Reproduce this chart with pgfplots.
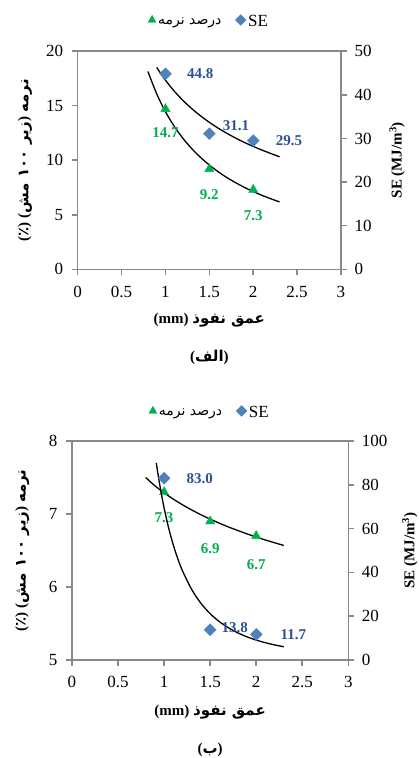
\documentclass[border=0pt]{standalone}
\usepackage{pgfplots}
\pgfplotsset{compat=1.18}
\usepackage{fontspec}
\setmainfont{Liberation Serif}
\newfontfamily\fa[Script=Arabic]{DejaVu Sans}
\TeXXeTstate=1
\definecolor{axgray}{RGB}{137,137,137}
\definecolor{fgreen}{RGB}{0,176,80}
\definecolor{seblue}{RGB}{79,129,189}
\definecolor{sedark}{RGB}{44,82,145}
\newcommand\tks{\fontsize{17}{17}\selectfont}
\newcommand\lbs{\fontsize{15}{15}\selectfont\bfseries}
\newcommand\lp{{\rmfamily\bfseries(}}
\newcommand\rp{{\rmfamily\bfseries)}}
\newcommand\leftlab{{\lbs\lp{\fa ٪}\rp\ \lp{\fa مش ۱۰۰ زیر}\rp\ {\fa نرمه}}}
\newcommand\xlab{{\lbs (mm)\ {\fa نفوذ عمق}}}
\newcommand\selab{{\lbs SE (MJ/m\textsuperscript{3})}}
\newcommand\legfa{{\fontsize{14}{14}\selectfont\fa\beginR درصد نرمه\endR}}
\tikzset{
  lab/.style={font=\lbs},
  glab/.style={font=\lbs, text=fgreen, anchor=center},
  blab/.style={font=\lbs, text=sedark, anchor=west}
}
\pgfplotsset{
  common/.style={scale only axis, anchor=south west, xmin=0, xmax=3,
    xtick={0,0.5,1,1.5,2,2.5,3},
    axis line style={draw=axgray, line width=1.5pt},
    tick style={draw=axgray, line width=1.5pt},
    major tick length=6pt, tick align=outside,
    tick label style={font=\tks},
    xticklabel style={yshift=-7pt},
    /pgf/number format/assume math mode=true,
    clip=false},
  trend/.style={black, line width=1.3pt, smooth, forget plot},
  tri/.style={only marks, mark=triangle*, mark size=5.3pt, color=fgreen,
    legend image code/.code={\draw[##1, mark size=4.6pt] plot coordinates {(0pt,2pt)};}},
  dia/.style={only marks, mark=square*, mark size=4.2pt, color=seblue, mark options={rotate=45},
    legend image code/.code={\draw[##1, mark size=3.8pt] plot coordinates {(0pt,2pt)};}},
  leg/.style={legend style={at={(axis description cs:0.499,#1)}, anchor=center, draw=none, fill=none,
    legend columns=2, font=\fontsize{17}{17}\selectfont,
    /tikz/every even column/.append style={column sep=12pt}}}
}
\begin{document}
\begin{tikzpicture}[x=1pt,y=1pt]
\fill[white] (0pt,0pt) rectangle (418pt,758pt);
\path[use as bounding box] (0pt,0pt) rectangle (418pt,758pt);
% ---------- top panel
\begin{axis}[common, at={(77.7pt,488.7pt)}, width=263.3pt, height=218.1pt,
  ymin=0, ymax=20, ytick={0,5,10,15,20}, xtick pos=left, ytick pos=left,
  yticklabel style={xshift=-5pt},
  ylabel={\leftlab}, ylabel style={at={(axis description cs:-0.2,0.5)}, anchor=center},
  xlabel={\xlab}, xlabel style={at={(axis description cs:0.5,-0.2325)}, anchor=center}]
\addplot[tri] coordinates {(1,14.7) (1.5,9.2) (2,7.3)};
\addplot[trend] coordinates {(0.8,18.14)(0.9,16.09)(1,14.45)(1.1,13.11)(1.2,12.00)(1.3,11.06)(1.4,10.26)(1.5,9.56)(1.6,8.95)(1.7,8.41)(1.8,7.94)(1.9,7.51)(2,7.13)(2.1,6.78)(2.2,6.47)(2.3,6.18)};
\node[glab] at (axis cs:1,14.7) [yshift=-24pt] {14.7};
\node[glab] at (axis cs:1.5,9.2) [yshift=-26pt] {9.2};
\node[glab] at (axis cs:2,7.3) [yshift=-26pt] {7.3};
\node[lab] at (axis description cs:0.5,-0.402) {\lp{\fa الف}\rp};
\end{axis}
\begin{axis}[common, at={(77.7pt,488.7pt)}, width=263.3pt, height=218.1pt,
  axis x line=none, axis y line*=right,
  ymin=0, ymax=50, ytick={0,10,20,30,40,50},
  yticklabel style={xshift=4pt},
  ylabel={\selab}, ylabel style={at={(axis description cs:1.213,0.5)}, anchor=center},
  leg=1.134]
\addlegendimage{tri}
\addlegendentry{\legfa}
\addplot[dia] coordinates {(1,44.8) (1.5,31.1) (2,29.5)};
\addlegendentry{SE}
\addplot[trend] coordinates {(0.9,46.28)(1,43.35)(1.1,40.85)(1.2,38.70)(1.3,36.82)(1.4,35.17)(1.5,33.69)(1.6,32.36)(1.7,31.17)(1.8,30.08)(1.9,29.08)(2,28.17)(2.1,27.33)(2.2,26.55)(2.3,25.79)};
\node[blab] at (axis cs:1,44.8) [xshift=18pt] {44.8};
\node[blab] at (axis cs:1.5,31.1) [xshift=10pt, yshift=8pt] {31.1};
\node[blab] at (axis cs:2,29.5) [xshift=19pt] {29.5};
\end{axis}
% ---------- bottom panel
\begin{axis}[common, at={(72pt,98pt)}, width=276.3pt, height=219pt,
  ymin=5, ymax=8, ytick={5,6,7,8}, xtick pos=left, ytick pos=left,
  yticklabel style={xshift=-5pt},
  ylabel={\leftlab}, ylabel style={at={(axis description cs:-0.18,0.5)}, anchor=center},
  xlabel={\xlab}, xlabel style={at={(axis description cs:0.5,-0.236)}, anchor=center}]
\addplot[tri] coordinates {(1,7.3) (1.5,6.9) (2,6.7)};
\addplot[trend] coordinates {(0.8,7.50)(0.9,7.387)(1,7.29)(1.1,7.204)(1.2,7.126)(1.3,7.055)(1.4,6.990)(1.5,6.930)(1.6,6.874)(1.7,6.822)(1.8,6.774)(1.9,6.728)(2,6.685)(2.1,6.644)(2.2,6.606)(2.3,6.569)};
\node[glab] at (axis cs:1,7.3) [yshift=-26pt] {7.3};
\node[glab] at (axis cs:1.5,6.9) [yshift=-27pt] {6.9};
\node[glab] at (axis cs:2,6.7) [yshift=-29pt] {6.7};
\node[lab] at (axis description cs:0.5,-0.411) {\lp{\fa ب}\rp};
\end{axis}
\begin{axis}[common, at={(72pt,98pt)}, width=276.3pt, height=219pt,
  axis x line=none, axis y line*=right,
  ymin=0, ymax=100, ytick={0,20,40,60,80,100},
  yticklabel style={xshift=4pt},
  ylabel={\selab}, ylabel style={at={(axis description cs:1.223,0.5)}, anchor=center},
  leg=1.128]
\addlegendimage{tri}
\addlegendentry{\legfa}
\addplot[dia] coordinates {(1,83.0) (1.5,13.8) (2,11.7)};
\addlegendentry{SE}
\addplot[trend] coordinates {(0.915,90.0)(0.95,80.66)(1,69.4)(1.05,60.16)(1.1,52.49)(1.15,46.08)(1.2,40.68)(1.3,32.17)(1.4,25.89)(1.5,21.15)(1.6,17.51)(1.7,14.66)(1.8,12.40)(1.9,10.58)(2,9.107)(2.1,7.89)(2.2,6.886)(2.3,6.05)};
\node[blab] at (axis cs:1,83.0) [xshift=19pt] {83.0};
\node[blab] at (axis cs:1.5,13.8) [xshift=8pt, yshift=2pt] {13.8};
\node[blab] at (axis cs:2,11.7) [xshift=21pt] {11.7};
\end{axis}
\end{tikzpicture}
\end{document}
